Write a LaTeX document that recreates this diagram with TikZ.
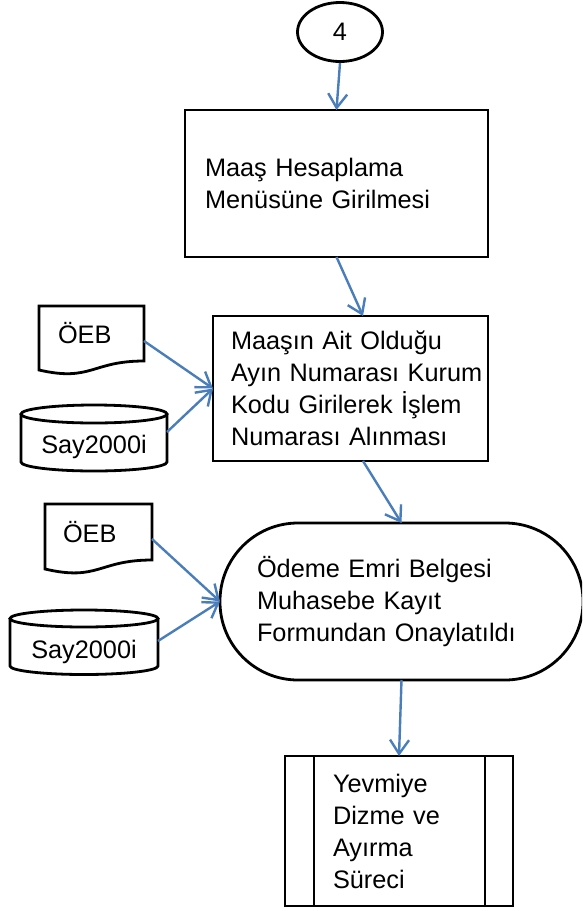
\documentclass[tikz,border=0pt]{standalone}
\usepackage{fontspec}
\setmainfont{Liberation Sans}
\usetikzlibrary{shapes.geometric, arrows.meta, positioning}
\definecolor{flowblue}{RGB}{74,126,187}

\begin{document}
\begin{tikzpicture}[x=1pt, y=-1pt, >={Straight Barb[length=14pt, width=19pt]}, % open arrow tip
		every node/.style={font=\fontsize{25.3}{32}\selectfont},
		procbox/.style={draw, line width=2.8pt, rectangle, align=left, inner ysep=0pt, outer sep=0pt},
		docnode/.style={rectangle, align=left, inner ysep=0pt, outer sep=0pt},
		dbnode/.style={rectangle, inner sep=0pt, outer sep=0pt, text depth=0pt},
		outline/.style={line width=2.8pt},
		flow/.style={->, draw=flowblue, line width=2.4pt}]
		
		% Frame of the page
		\useasboundingbox (0,0) rectangle (582,911);
		\clip (0,0) rectangle (582,911);
		
		% Connector 4
		\node[draw, ellipse, line width=2.8pt, minimum width=85pt, minimum height=59pt, inner sep=0pt] (conn4) at (340,32) {4};
		
		% Menu box
		\node[procbox, minimum width=303pt, minimum height=147pt, text width=263pt, inner xsep=20pt] (menu) at (336.5,183.5) {Maaş Hesaplama\\Menüsüne Girilmesi};
		
		% Islem box
		\node[procbox, minimum width=275pt, minimum height=145pt, text width=239pt, inner xsep=18pt] (islem) at (350.5,388.5)
		{\mbox{Maaşın Ait Olduğu}\\\mbox{Ayın Numarası Kurum}\\\mbox{Kodu Girilerek İşlem}\\\mbox{Numarası Alınması}};
		
		% Terminator
		\node[procbox, rounded corners=78pt, minimum width=363pt, minimum height=157pt, text width=289pt, inner xsep=37pt] (onay) at (401.5,601.5)
		{Ödeme Emri Belgesi\\Muhasebe Kayıt\\Formundan Onaylatıldı};
		
		% Predefined process
		\node[procbox, minimum width=228pt, minimum height=150pt, text width=132pt, inner xsep=48pt] (yevmiye) at (399,831) {Yevmiye\\Dizme ve\\Ayırma\\Süreci};
		\draw[outline] ([xshift=29pt]yevmiye.north west) -- ([xshift=29pt]yevmiye.south west);
		\draw[outline] ([xshift=-28pt]yevmiye.north east) -- ([xshift=-28pt]yevmiye.south east);
		
		% Document OEB 1
		\node[docnode, minimum width=105pt, minimum height=55pt, text width=67pt, inner xsep=19pt] (oeb1) at (91.5,333.5) {ÖEB};
		\draw[outline] (oeb1.south east) -- (oeb1.north east) -- (oeb1.north west) -- ([yshift=-9pt]oeb1.south west)
		.. controls ([yshift=-21pt]oeb1.south) and (oeb1.south) .. cycle;
		
		% Database Say2000i 1
		\node[dbnode, minimum width=146pt] (say1) at (94,444.75) {Say2000i};
		\draw[outline] ([yshift=30.75pt]say1.center) ellipse [x radius=73pt, y radius=9pt];
		\draw[outline] ([yshift=30.75pt]say1.west) -- ([yshift=-17.25pt]say1.west)
		arc[start angle=180, end angle=360, x radius=73pt, y radius=9pt] -- ([yshift=30.75pt]say1.east);
		
		% Document OEB 2
		\node[docnode, minimum width=107pt, minimum height=56pt, text width=71pt, inner xsep=18pt] (oeb2) at (98.5,532) {ÖEB};
		\draw[outline] (oeb2.south east) -- (oeb2.north east) -- (oeb2.north west) -- ([yshift=-9pt]oeb2.south west)
		.. controls ([yshift=-21.5pt]oeb2.south) and (oeb2.south) .. cycle;
		
		% Database Say2000i 2
		\node[dbnode, minimum width=148pt] (say2) at (84,649) {Say2000i};
		\draw[outline] ([yshift=30.5pt]say2.center) ellipse [x radius=74pt, y radius=8.5pt];
		\draw[outline] ([yshift=30.5pt]say2.west) -- ([yshift=-17pt]say2.west)
		arc[start angle=180, end angle=360, x radius=74pt, y radius=8.5pt] -- ([yshift=30.5pt]say2.east);
		
		% Draw the arrows
		\draw[flow] (conn4.south) -- (menu.north);
		\draw[flow] (menu.south) -- ([xshift=12.5pt]islem.north);
		\draw[flow] ([yshift=-7.5pt]oeb1.east) -- (islem.west);
		\draw[flow] ([yshift=12.75pt]say1.east) -- (islem.west);
		\draw[flow] ([xshift=12.5pt]islem.south) -- (onay.north);
		\draw[flow] ([yshift=-7pt]oeb2.east) -- (onay.west);
		\draw[flow] ([yshift=8pt]say2.east) -- (onay.west);
		\draw[flow] (onay.south) -- (yevmiye.north);
		
	\end{tikzpicture}
\end{document}
